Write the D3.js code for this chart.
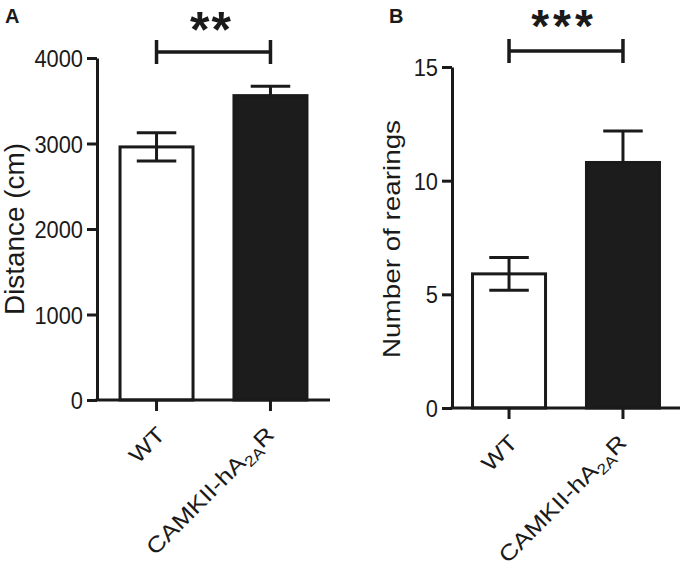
<!DOCTYPE html>
<html><head><meta charset="utf-8">
<script src="https://cdn.jsdelivr.net/npm/d3@7/dist/d3.min.js"></script>
<style>body{margin:0;background:#fff}svg{display:block}text{font-family:"Liberation Sans",Arial,sans-serif;fill:#1a1a1a}</style>
</head><body>
<svg id="c" width="686" height="568"></svg>
<script>
// ---- data ----
const categories = ["WT", "CAMKII-hA2AR"];
const distanceMean = [2960, 3560];
const distanceSEM = [165, 110];
const distanceTicks = [0, 1000, 2000, 3000, 4000];
const rearingMean = [5.9, 10.8];
const rearingSEM = [0.72, 1.38];
const rearingTicks = [0, 5, 10, 15];
const barFills = ["#ffffff", "#1c1c1c"];
const sigA = "**";
const sigB = "***";

const svg = d3.select("#c");
const ink = "#1a1a1a";

function panel(cfg) {
  const g = svg.append("g");
  const x = d3.scaleBand().domain(categories).range([cfg.x0, cfg.x1])
    .paddingInner(0.333).paddingOuter(cfg.po);
  const y = d3.scaleLinear().domain(cfg.domain).range([cfg.y0, cfg.y1]);

  // bars
  g.selectAll("rect.bar").data(categories).join("rect")
    .attr("x", d => x(d) + 1.5)
    .attr("y", (d, i) => y(cfg.mean[i]))
    .attr("width", x.bandwidth() - 3)
    .attr("height", (d, i) => y(0) - y(cfg.mean[i]))
    .attr("fill", (d, i) => barFills[i])
    .attr("stroke", ink).attr("stroke-width", 3);

  // error bars
  const cap = x.bandwidth() * 0.52;
  categories.forEach((c, i) => {
    const cx = x(c) + x.bandwidth() / 2;
    const hi = y(cfg.mean[i] + cfg.sem[i]);
    const lo = y(cfg.mean[i] - cfg.sem[i]);
    const bot = i === 0 ? lo : y(cfg.mean[i]);
    g.append("line").attr("x1", cx).attr("x2", cx).attr("y1", hi).attr("y2", bot)
      .attr("stroke", ink).attr("stroke-width", 3);
    g.append("line").attr("x1", cx - cap / 2).attr("x2", cx + cap / 2).attr("y1", hi).attr("y2", hi)
      .attr("stroke", ink).attr("stroke-width", 3);
    if (i === 0) {
      g.append("line").attr("x1", cx - cap / 2).attr("x2", cx + cap / 2).attr("y1", lo).attr("y2", lo)
        .attr("stroke", ink).attr("stroke-width", 3);
    }
  });

  // y axis
  const ya = g.append("g").attr("transform", `translate(${cfg.x0},0)`)
    .call(d3.axisLeft(y).tickValues(cfg.ticks).tickFormat(d3.format("d"))
      .tickSize(10).tickPadding(4).tickSizeOuter(0));
  ya.attr("font-size", null).attr("font-family", null);
  ya.select(".domain").attr("stroke", ink).attr("stroke-width", 3);
  ya.selectAll(".tick line").attr("stroke", ink).attr("stroke-width", 3);
  ya.selectAll(".tick text").style("font-size", "24px").attr("fill", ink).attr("dy", "0.36em")
    .each(function () {
      const L = this.getComputedTextLength();
      d3.select(this).attr("textLength", L * 0.91).attr("lengthAdjust", "spacingAndGlyphs");
    });

  // x axis
  const xa = g.append("g").attr("transform", `translate(0,${cfg.y0})`)
    .call(d3.axisBottom(x).tickSize(11).tickSizeOuter(0).tickFormat(""));
  xa.select(".domain").attr("stroke", ink).attr("stroke-width", 3)
    .attr("d", `M${cfg.x0 - 1.5},0H${cfg.x1}`);
  xa.selectAll(".tick line").attr("stroke", ink).attr("stroke-width", 3);

  // category labels
  categories.forEach((c, i) => {
    const cx = x(c) + x.bandwidth() / 2;
    const t = g.append("text")
      .attr("transform", `translate(${cx + cfg.lx[i]},${cfg.y0 + 36}) rotate(-45) scale(1.18,1)`)
      .attr("text-anchor", "end").style("font-size", "22px");
    if (c === "CAMKII-hA2AR") {
      t.append("tspan").text("CAMKII-hA");
      t.append("tspan").text("2A").style("font-size", "15px").attr("dy", 5);
      t.append("tspan").text("R").attr("dy", -5);
    } else {
      t.text(c);
    }
  });

  // y title
  g.append("text")
    .attr("transform", `translate(${cfg.tx},${cfg.ty}) rotate(-90)`)
    .attr("text-anchor", "middle").style("font-size", cfg.tfs + "px")
    .attr("textLength", cfg.tlen).attr("lengthAdjust", "spacingAndGlyphs")
    .text(cfg.title);

  // significance bracket
  const c0 = x(categories[0]) + x.bandwidth() / 2;
  const c1 = x(categories[1]) + x.bandwidth() / 2;
  g.append("path")
    .attr("d", `M${c0},${cfg.by - 12}V${cfg.by + 12}M${c0},${cfg.by}H${c1}M${c1},${cfg.by - 12}V${cfg.by + 12}`)
    .attr("stroke", ink).attr("stroke-width", 3.5).attr("fill", "none");
  g.append("text").attr("x", (c0 + c1) / 2 - 2).attr("y", cfg.sy)
    .attr("text-anchor", "middle").style("font-size", cfg.sfs + "px").attr("font-weight", "bold")
    .attr("letter-spacing", cfg.sls)
    .text(cfg.sig);

  // panel letter
  g.append("text").attr("x", cfg.px).attr("y", 23).style("font-size", "20px")
    .attr("font-weight", "bold").text(cfg.letter);
}

panel({
  x0: 97, x1: 330, po: 0.189, y0: 400, y1: 58, domain: [0, 4000],
  mean: distanceMean, sem: distanceSEM, ticks: distanceTicks,
  title: "Distance (cm)", tx: 24, ty: 229, tfs: 27, tlen: 172,
  by: 52, sy: 47, sfs: 50, sls: 2, sig: sigA, letter: "A", px: 5, lx: [10, 5]
});
panel({
  x0: 452, x1: 680, po: 0.167, y0: 408, y1: 67, domain: [0, 15],
  mean: rearingMean, sem: rearingSEM, ticks: rearingTicks,
  title: "Number of rearings", tx: 400, ty: 239, tfs: 24, tlen: 238,
  by: 51, sy: 42, sfs: 46, sls: 4, sig: sigB, letter: "B", px: 389, lx: [10, 5]
});
</script>
</body></html>
